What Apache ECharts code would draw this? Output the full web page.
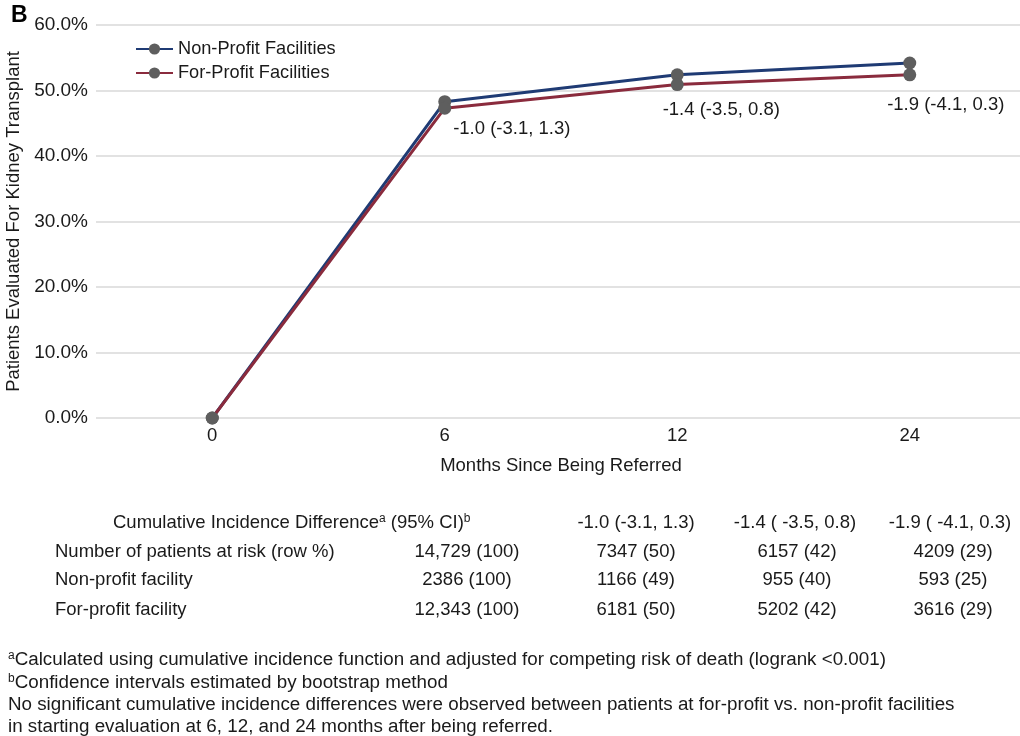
<!DOCTYPE html>
<html>
<head>
<meta charset="utf-8">
<script src="https://cdn.jsdelivr.net/npm/echarts@6/dist/echarts.min.js"></script>
<style>
  html, body { margin: 0; padding: 0; background: #fff; }
  #chart { width: 1020px; height: 736px; }
</style>
</head>
<body>
<div id="chart"></div>
<script>
// Months since referral (category axis)
const months = ['0', '6', '12', '24'];
// Cumulative percentage evaluated for kidney transplant
const nonProfit = [0, 48.3, 52.4, 54.2];
const forProfit = [0, 47.3, 50.9, 52.4];
// Cumulative incidence difference (95% CI) shown beside the curves
const diffLabels = ['', '-1.0 (-3.1, 1.3)', '-1.4 (-3.5, 0.8)', '-1.9 (-4.1, 0.3)'];
// Y axis range / step (percent)
const yMin = 0, yMax = 60, yStep = 10;

// Risk table
const tableHeaderDiffs = ['-1.0 (-3.1, 1.3)', '-1.4 ( -3.5, 0.8)', '-1.9 ( -4.1, 0.3)'];
const tableRowLabels = ['Number of patients at risk (row %)', 'Non-profit facility', 'For-profit facility'];
const tableRows = [
  ['14,729 (100)', '7347 (50)', '6157 (42)', '4209 (29)'],
  ['2386 (100)', '1166 (49)', '955 (40)', '593 (25)'],
  ['12,343 (100)', '6181 (50)', '5202 (42)', '3616 (29)']
];
// Footnotes: [superscript marker, text]
const footnotes = [
  ['a', 'Calculated using cumulative incidence function and adjusted for competing risk of death (logrank <0.001)'],
  ['b', 'Confidence intervals estimated by bootstrap method'],
  ['', 'No significant cumulative incidence differences were observed between patients at for-profit vs. non-profit facilities'],
  ['', 'in starting evaluation at 6, 12, and 24 months after being referred.']
];

const FONT = '"Liberation Sans", Arial, Helvetica, sans-serif';
const FS = 18.5;
const FOOT_FS = 18.8;
const TXT = '#1a1a1a';
const BLUE = '#1f3b74';
const RED = '#8a2b3d';
const MARK = '#5e5e5e';

// label placement relative to each For-Profit point
const labelOffsets = [[0, 0], [67, 21], [44, 25], [36, 30]];

const chart = echarts.init(document.getElementById('chart'), null, { renderer: 'canvas' });

const rich = {
  sup: { fontSize: 12, fontFamily: FONT, color: TXT, verticalAlign: 'top', padding: [0, 0, 9, 0] },
  n: { fontSize: FS, fontFamily: FONT, color: TXT },
  f: { fontSize: FOOT_FS, fontFamily: FONT, color: TXT }
};

const graphics = [
  { type: 'text', x: 11, y: 4, style: { text: 'B', font: 'bold 23px ' + FONT, fill: '#000' } }
];

// Table header row
const colCenters = [467, 636, 797, 953];
const headerCenters = [636, 795, 950];
const headerY = 523;
const rowYs = [552, 580, 610];
graphics.push({
  type: 'text', x: 113, y: headerY,
  style: {
    text: '{n|Cumulative Incidence Difference}{sup|a}{n| (95% CI)}{sup|b}',
    rich: rich, fill: TXT, verticalAlign: 'middle'
  }
});
tableHeaderDiffs.forEach((t, i) => {
  graphics.push({
    type: 'text', x: headerCenters[i], y: headerY,
    style: { text: t, font: FS + 'px ' + FONT, fill: TXT, align: 'center', verticalAlign: 'middle' }
  });
});
tableRowLabels.forEach((t, r) => {
  graphics.push({
    type: 'text', x: 55, y: rowYs[r],
    style: { text: t, font: FS + 'px ' + FONT, fill: TXT, verticalAlign: 'middle' }
  });
  tableRows[r].forEach((v, c) => {
    graphics.push({
      type: 'text', x: colCenters[c], y: rowYs[r],
      style: { text: v, font: FS + 'px ' + FONT, fill: TXT, align: 'center', verticalAlign: 'middle' }
    });
  });
});
const footYs = [660, 683, 705, 727];
footnotes.forEach(([mark, t], i) => {
  graphics.push({
    type: 'text', x: 8, y: footYs[i],
    style: {
      text: (mark ? '{sup|' + mark + '}' : '') + '{f|' + t + '}',
      rich: rich, fill: TXT, verticalAlign: 'middle'
    }
  });
});

chart.setOption({
  animation: false,
  backgroundColor: '#fff',
  textStyle: { fontFamily: FONT },
  grid: { left: 96, top: 25, width: 930, bottom: 318, containLabel: false, outerBoundsMode: 'none' },
  legend: {
    left: 130, top: 35, orient: 'vertical',
    itemWidth: 37, itemHeight: 14, itemGap: 6,
    textStyle: { fontSize: 18.2, color: TXT, fontFamily: FONT },
    data: ['Non-Profit Facilities', 'For-Profit Facilities']
  },
  xAxis: {
    type: 'category',
    data: months,
    boundaryGap: true,
    name: 'Months Since Being Referred',
    nameLocation: 'middle',
    nameGap: 38,
    nameTextStyle: { fontSize: FS, color: TXT, fontFamily: FONT },
    axisLine: { show: false },
    axisTick: { show: false },
    axisLabel: { fontSize: FS, color: TXT, margin: 8, fontFamily: FONT }
  },
  yAxis: {
    type: 'value',
    min: yMin, max: yMax, interval: yStep,
    name: 'Patients Evaluated For Kidney Transplant',
    nameLocation: 'middle',
    nameGap: 72,
    nameRotate: 90,
    nameTextStyle: { fontSize: FS, color: TXT, fontFamily: FONT },
    axisLine: { show: false },
    axisTick: { show: false },
    axisLabel: { fontSize: 19, color: TXT, margin: 8, fontFamily: FONT, formatter: v => v.toFixed(1) + '%' },
    splitLine: { lineStyle: { color: '#d9d9d9', width: 1.5 } }
  },
  series: [
    {
      name: 'Non-Profit Facilities',
      type: 'line',
      data: nonProfit,
      symbol: 'circle', symbolSize: 13,
      lineStyle: { color: BLUE, width: 3 },
      itemStyle: { color: MARK },
      color: BLUE,
      z: 3
    },
    {
      name: 'For-Profit Facilities',
      type: 'line',
      data: forProfit.map((v, i) => ({
        value: v,
        label: {
          show: i > 0,
          position: 'inside',
          offset: labelOffsets[i],
          formatter: () => diffLabels[i],
          fontSize: FS, color: TXT, fontFamily: FONT
        }
      })),
      symbol: 'circle', symbolSize: 13,
      lineStyle: { color: RED, width: 3 },
      itemStyle: { color: MARK },
      color: RED,
      z: 4
    }
  ],
  graphic: graphics
});
</script>
</body>
</html>
